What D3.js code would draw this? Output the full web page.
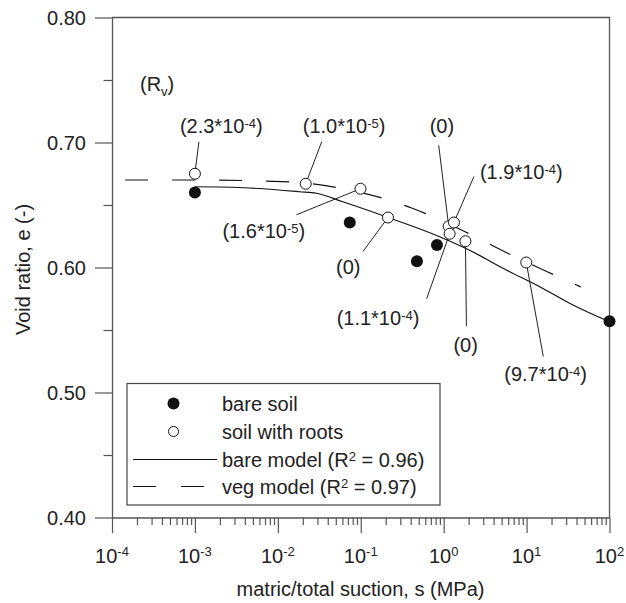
<!DOCTYPE html>
<html><head><meta charset="utf-8">
<script src="https://cdn.jsdelivr.net/npm/d3@7"></script>
<style>
body{margin:0;background:#fff;}
text{font-family:"Liberation Sans",Arial,Helvetica,sans-serif;fill:#222;}
</style>
</head><body>
<svg id="chart" width="626" height="603"></svg>
<script>
// ---------- data ----------
const bareSuction = [0.001, 0.0737, 0.476, 0.83, 100];
const bareVoid    = [0.660, 0.636, 0.605, 0.618, 0.557];

const rootSuction = [0.001, 0.0217, 0.0992, 0.213, 1.15, 1.33, 1.18, 1.83, 9.92];
const rootVoid    = [0.675, 0.667, 0.663, 0.640, 0.633, 0.636, 0.627, 0.621, 0.604];
const rootRvMant  = ["2.3", "1.0", "1.6", "0", "0", "1.9", "1.1", "0", "9.7"];
const rootRvExp   = ["-4", "-5", "-5", null, null, "-4", "-4", null, "-4"];

const bareModelSuction = [0.001, 0.00287, 0.0184, 0.0292, 0.0607, 0.223, 0.895, 2.23, 5.69, 14.4, 36.2, 100];
const bareModelVoid    = [0.6646, 0.6642, 0.6606, 0.6594, 0.6526, 0.6396, 0.6246, 0.6126, 0.598, 0.5846, 0.570, 0.5566];

const vegModelSuction = [0.000144, 0.001, 0.014, 0.0514, 0.179, 0.411, 0.624, 2.06, 6.55, 21.7, 45];
const vegModelVoid    = [0.670, 0.670, 0.6684, 0.664, 0.6556, 0.6476, 0.6428, 0.6268, 0.610, 0.594, 0.5845];

const yMajorTicks = [0.40, 0.50, 0.60, 0.70, 0.80];
const yMinorTicks = [0.45, 0.55, 0.65, 0.75];
const xMajorExps  = [-4, -3, -2, -1, 0, 1, 2];

const legendLabels = ["bare soil", "soil with roots", "bare model (R", "veg model (R"];
const legendR2     = [null, null, "0.96", "0.97"];

// ---------- layout (pixel offsets of annotation text / leader start, relative to point) ----------
const annotLayout = [
  {tx:-15, ty:-41, lx:4,   ly:-32},
  {tx:-3,  ty:-51, lx:16,  ly:-42},
  {tx:-138,ty:49,  lx:-64, ly:26},
  {tx:-52, ty:56,  lx:-25, ly:34},
  {tx:-19, ty:-93, lx:-10, ly:-81},
  {tx:26,  ty:-44, lx:20,  ly:-46},
  {tx:-113,ty:91,  lx:-23, ly:65},
  {tx:-12, ty:111, lx:1,   ly:85},
  {tx:-22, ty:118, lx:17,  ly:94}
];

const svg = d3.select("#chart");
const L = 112, R = 609.5, T = 17.5, B = 517.5;
const x = d3.scaleLog().domain([1e-4, 1e2]).range([L, R]);
const y = d3.scaleLinear().domain([0.4, 0.8]).range([B, T]);
const axisColor = "#555";
const FS = 20;

// frame (top & right)
svg.append("path").attr("d", `M${L},${T}H${R}V${B}`)
  .attr("fill","none").attr("stroke",axisColor).attr("stroke-width",1.3);

// x axis
const allXTicks = x.ticks();
const xMinor = allXTicks.filter(v => Math.abs(Math.log10(v) - Math.round(Math.log10(v))) > 1e-6);
const xMajor = xMajorExps.map(e => Math.pow(10, e));
const gxMinor = svg.append("g").attr("transform",`translate(0,${B})`)
  .call(d3.axisBottom(x).tickValues(xMinor).tickSize(7.5).tickFormat(""));
gxMinor.select(".domain").remove();
const gxMajor = svg.append("g").attr("transform",`translate(0,${B})`)
  .call(d3.axisBottom(x).tickValues(xMajor).tickSizeInner(15.5).tickSizeOuter(0).tickFormat(""));
[gxMinor, gxMajor].forEach(g => {
  g.selectAll("line").attr("stroke",axisColor).attr("stroke-width",1.2);
  g.selectAll("path").attr("stroke",axisColor).attr("stroke-width",1.3);
});
xMajorExps.forEach(e => {
  const t = svg.append("text").attr("x", x(Math.pow(10,e))).attr("y", 563)
    .attr("text-anchor","middle").attr("font-size",FS);
  t.append("tspan").text("10");
  t.append("tspan").attr("font-size",13).attr("dy",-7).text(String(e));
});

// y axis
const gyMinor = svg.append("g").attr("transform",`translate(${L},0)`)
  .call(d3.axisLeft(y).tickValues(yMinorTicks).tickSize(8.5).tickFormat(""));
gyMinor.select(".domain").remove();
const gyMajor = svg.append("g").attr("transform",`translate(${L},0)`)
  .call(d3.axisLeft(y).tickValues(yMajorTicks).tickSizeInner(17).tickSizeOuter(0).tickPadding(9).tickFormat(d3.format(".2f")));
[gyMinor, gyMajor].forEach(g => {
  g.selectAll("line").attr("stroke",axisColor).attr("stroke-width",1.2);
  g.selectAll("path").attr("stroke",axisColor).attr("stroke-width",1.3);
});
gyMajor.selectAll("text").attr("font-size",FS).attr("font-family",null).attr("fill","#222").attr("dy","0.37em");

// axis titles
svg.append("text").attr("x", 360.5).attr("y", 596).attr("text-anchor","middle")
  .attr("font-size",FS).text("matric/total suction, s (MPa)");
svg.append("text").attr("transform","translate(30,269.5) rotate(-90)").attr("text-anchor","middle")
  .attr("font-size",FS).text("Void ratio, e (-)");

// model curves
const line = d3.line().x(d => x(d[0])).y(d => y(d[1])).curve(d3.curveMonotoneX);
svg.append("path").datum(bareModelSuction.map((s,i)=>[s,bareModelVoid[i]]))
  .attr("d", line).attr("fill","none").attr("stroke","#111").attr("stroke-width",1.2);
svg.append("path").datum(vegModelSuction.map((s,i)=>[s,vegModelVoid[i]]))
  .attr("d", line).attr("fill","none").attr("stroke","#111").attr("stroke-width",1.2)
  .attr("stroke-dasharray","23,24");

// annotations (leader lines + labels)
const rOpen = 5.5;
rootSuction.forEach((s,i) => {
  const px = x(s), py = y(rootVoid[i]), a = annotLayout[i];
  const sx = px + a.lx, sy = py + a.ly;
  const dx = px - sx, dy = py - sy, len = Math.hypot(dx,dy);
  svg.append("line").attr("x1",sx).attr("y1",sy)
    .attr("x2", px - dx/len*rOpen).attr("y2", py - dy/len*rOpen)
    .attr("stroke","#222").attr("stroke-width",1);
  const t = svg.append("text").attr("x", px + a.tx).attr("y", py + a.ty).attr("font-size",FS);
  if (rootRvExp[i] === null) {
    t.text("(" + rootRvMant[i] + ")");
  } else {
    t.append("tspan").text("(" + rootRvMant[i] + "*10");
    t.append("tspan").attr("font-size",13).attr("dy",-5).text(rootRvExp[i]);
    t.append("tspan").attr("dy",5).text(")");
  }
});

// (Rv) label
const rv = svg.append("text").attr("x",140).attr("y",91).attr("font-size",FS);
rv.append("tspan").text("(R");
rv.append("tspan").attr("font-size",13).attr("dy",5).text("v");
rv.append("tspan").attr("dy",-5).text(")");

// points
svg.append("g").selectAll("circle").data(rootSuction.map((s,i)=>[s,rootVoid[i]])).join("circle")
  .attr("cx",d=>x(d[0])).attr("cy",d=>y(d[1])).attr("r",rOpen)
  .attr("fill","#fff").attr("stroke","#111").attr("stroke-width",1);
svg.append("g").selectAll("circle").data(bareSuction.map((s,i)=>[s,bareVoid[i]])).join("circle")
  .attr("cx",d=>x(d[0])).attr("cy",d=>y(d[1])).attr("r",6).attr("fill","#111");

// legend
const lg = svg.append("g");
lg.append("rect").attr("x",127).attr("y",383.5).attr("width",313).attr("height",121.5)
  .attr("fill","#fff").attr("stroke","#444").attr("stroke-width",1.2);
const rowY = [403.5, 431.5, 459.5, 486.5];
lg.append("circle").attr("cx",173.5).attr("cy",rowY[0]).attr("r",6).attr("fill","#111");
lg.append("circle").attr("cx",173.5).attr("cy",rowY[1]).attr("r",5).attr("fill","#fff").attr("stroke","#111");
lg.append("line").attr("x1",133).attr("x2",217).attr("y1",rowY[2]).attr("y2",rowY[2])
  .attr("stroke","#111").attr("stroke-width",1.2);
lg.append("line").attr("x1",133).attr("x2",206).attr("y1",rowY[3]).attr("y2",rowY[3])
  .attr("stroke","#111").attr("stroke-width",1.2).attr("stroke-dasharray","23,25");
legendLabels.forEach((lab,i) => {
  const t = lg.append("text").attr("x",222).attr("y",rowY[i]+7).attr("font-size",FS);
  if (legendR2[i] === null) { t.text(lab); }
  else {
    t.append("tspan").text(lab);
    t.append("tspan").attr("font-size",13).attr("dy",-6).text("2");
    t.append("tspan").attr("dy",6).text(" = " + legendR2[i] + ")");
  }
});
</script>
</body></html>
